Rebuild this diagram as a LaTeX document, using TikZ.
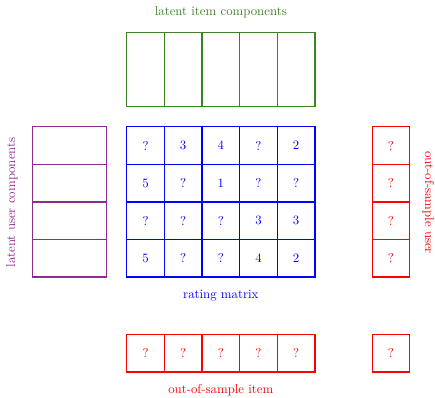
\documentclass[tikz,border=0pt]{standalone}
\definecolor{itemgreen}{RGB}{60,130,40}
\definecolor{userpurple}{RGB}{140,45,140}
\tikzset{
  cell/.style={draw, rectangle, inner sep=0pt, line width=0.9pt, minimum width=28.24pt, minimum height=28.1pt, font=\fontsize{9.6}{11}\selectfont},
  tallcell/.style={cell, minimum height=55.6pt},
  widecell/.style={cell, minimum width=55.8pt},
  lbl/.style={font=\fontsize{9.6}{11}\selectfont, inner sep=0pt}
}
\begin{document}
\begin{tikzpicture}[x=0.75pt,y=-0.75pt]
\useasboundingbox (0,0) rectangle (435,397);
% latent item components
\foreach \i in {1,...,5} {
  \node[tallcell, draw=itemgreen] (g\i) at ({126.7+37.65*(\i-0.5)}, 69.8) {};
}
\node[lbl, text=itemgreen] (glab) at (220.8,12) {latent item components};
% latent user components
\foreach \j in {1,...,4} {
  \node[widecell, draw=userpurple] (p\j) at (69.5, {126.7+37.58*(\j-0.5)}) {};
}
\node[lbl, text=userpurple, rotate=90] (plab) at (12,202.5) {latent user components};
% rating matrix
\foreach \j/\row in {1/{?,3,4,?,2}, 2/{5,?,1,?,?}, 3/{?,?,?,3,3}, 4/{5,?,?,4,2}} {
  \foreach \v [count=\i] in \row {
    \node[cell, draw=blue, text=blue] (r\j\i) at ({126.7+37.65*(\i-0.5)}, {126.7+37.58*(\j-0.5)}) {\v};
  }
}
\node[lbl, text=blue] (rlab) at (220.8,296) {rating matrix};
% out-of-sample user
\foreach \j in {1,...,4} {
  \node[cell, draw=red, text=red] (u\j) at (391, {126.7+37.58*(\j-0.5)}) {?};
}
\node[lbl, text=red, rotate=-90] (ulab) at (428.5,202.5) {out-of-sample user};
% out-of-sample item
\foreach \i in {1,...,5} {
  \node[cell, draw=red, text=red] (o\i) at ({126.7+37.65*(\i-0.5)}, 353.3) {?};
}
\node[cell, draw=red, text=red] (oo) at (391,353.3) {?};
\node[lbl, text=red] (olab) at (220.8,390) {out-of-sample item};
\end{tikzpicture}
\end{document}
